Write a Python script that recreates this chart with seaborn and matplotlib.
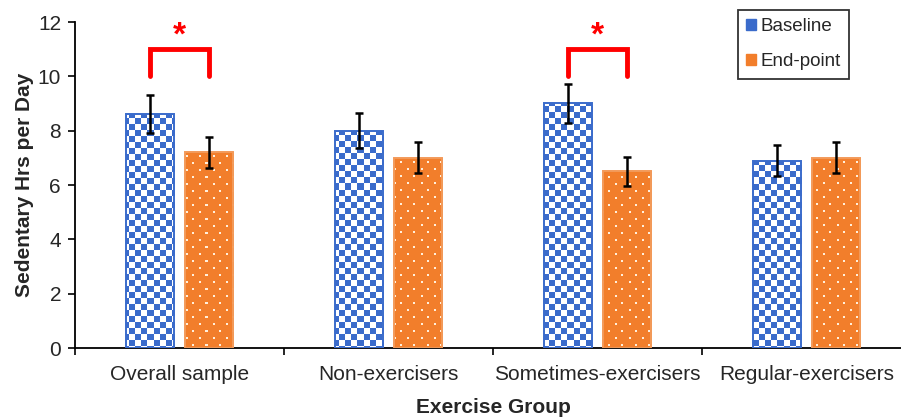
import numpy as np
import pandas as pd
import matplotlib
matplotlib.use("Agg")
import matplotlib.pyplot as plt
import seaborn as sns
from matplotlib.patches import Patch

# ---- data ----
groups = ["Overall sample", "Non-exercisers", "Sometimes-exercisers", "Regular-exercisers"]
times = ["Baseline", "End-point"]
baseline = [8.6, 8.0, 9.0, 6.9]
endpoint = [7.2, 7.0, 6.5, 7.0]
baseline_err = [0.70, 0.65, 0.72, 0.57]
endpoint_err = [0.57, 0.57, 0.53, 0.57]
sig_groups = ["Overall sample", "Sometimes-exercisers"]
sig_low, sig_high = 10.0, 11.0
y_ticks = [0, 2, 4, 6, 8, 10, 12]

df = pd.DataFrame({
    "Group": groups * 2,
    "Time": [times[0]] * 4 + [times[1]] * 4,
    "Hours": baseline + endpoint,
    "Err": baseline_err + endpoint_err,
})

blue = "#3A6BCB"
orange = "#F27E2B"

sns.set_theme(style="white")
plt.rcParams["font.family"] = ["Liberation Sans", "DejaVu Sans"]

W, H, DPI = 901, 419, 100
fig = plt.figure(figsize=(W / DPI, H / DPI), dpi=DPI)
ax_l, ax_r, ax_t, ax_b = 75, 911, 22, 348
ax = fig.add_axes([ax_l / W, (H - ax_b) / H, (ax_r - ax_l) / W, (ax_b - ax_t) / H])

sns.barplot(data=df, x="Group", y="Hours", hue="Time", order=groups, hue_order=times,
            palette=[blue, orange], width=0.564, gap=0.18, errorbar=None, ax=ax,
            legend=False)

ax.set_xlim(-0.5, 3.5)
ax.set_ylim(0, 12)

# textures
pw, ph = ax_r - ax_l, ax_b - ax_t
jj, ii = np.meshgrid(np.arange(pw), np.arange(ph))
checker = ((ii // 6 + jj // 6) % 2 == 0)
blue_rgb = np.array(matplotlib.colors.to_rgb(blue))
orange_rgb = np.array(matplotlib.colors.to_rgb(orange))
tex_blue = np.ones((ph, pw, 3))
tex_blue[checker] = blue_rgb
tex_orange = np.ones((ph, pw, 3)) * orange_rgb
rs, cs = 7, 13
rowi = ii // rs
dots = ((ii % rs) < 2) & (((jj + (rowi % 2) * 6) % cs) < 2)
tex_orange[dots] = [1.0, 0.94, 0.86]

bars = sorted(ax.patches, key=lambda p: p.get_x())
vals = df.set_index(["Group", "Time"])
centers = {}
for p in bars:
    cx = p.get_x() + p.get_width() / 2
    gi = int(round(cx))
    t = times[0] if cx < gi else times[1]
    g = groups[gi]
    centers[(g, t)] = cx
    tex = tex_blue if t == times[0] else tex_orange
    ec = blue if t == times[0] else "#F39A5A"
    p.set_facecolor("none")
    p.set_edgecolor(ec)
    p.set_linewidth(1.4)
    p.set_zorder(3)
    im = ax.imshow(tex, extent=(-0.5, 3.5, 0, 12), aspect="auto", interpolation="nearest",
                   zorder=2.5, origin="upper")
    im.set_clip_path(p)
    ax.errorbar(cx, vals.loc[(g, t), "Hours"], yerr=vals.loc[(g, t), "Err"], fmt="none",
                ecolor="black", elinewidth=1.8, capsize=3.2, capthick=1.8, zorder=4)

# significance brackets
for g in sig_groups:
    x0, x1 = centers[(g, times[0])], centers[(g, times[1])]
    ax.plot([x0, x0, x1, x1], [sig_low, sig_high, sig_high, sig_low], color="#FF0000",
            lw=3.5, solid_joinstyle="miter", solid_capstyle="round", zorder=5, clip_on=False)
    ax.text((x0 + x1) / 2, 10.9, "*", color="#FF0000", fontsize=24, fontweight="bold",
            ha="center", va="bottom", zorder=5)

# axes styling
for s in ["top", "right"]:
    ax.spines[s].set_visible(False)
for s in ["left", "bottom"]:
    ax.spines[s].set_color("black")
    ax.spines[s].set_linewidth(1.3)
fs = 15
ax.set_yticks(y_ticks)
ax.set_yticklabels([str(v) for v in y_ticks])
ax.tick_params(axis="y", which="major", direction="out", length=5, width=1.2, color="black",
               labelsize=fs, pad=5, left=True)
ax.set_xticks(range(len(groups)))
ax.set_xticklabels(groups)
ax.tick_params(axis="x", which="major", length=0, labelsize=fs, pad=12)
ax.set_xticks([-0.5, 0.5, 1.5, 2.5], minor=True)
ax.tick_params(axis="x", which="minor", direction="out", length=5, width=1.2, color="black",
               bottom=True)
ax.set_xlabel("Exercise Group", fontsize=fs, fontweight="bold", labelpad=10)
ax.set_ylabel("Sedentary Hrs per Day", fontsize=fs, fontweight="bold", labelpad=3)
ax.grid(False)

handles = [Patch(facecolor=blue, edgecolor=blue, label=times[0]),
           Patch(facecolor=orange, edgecolor=orange, label=times[1])]
leg = ax.legend(handles=handles, loc="upper left", bbox_to_anchor=((738 - ax_l) / pw, 1 + (ax_t - 10) / ph),
                frameon=True, fancybox=False, edgecolor="black", fontsize=13.5,
                handlelength=0.5, handleheight=0.5, handletextpad=0.25, borderpad=0.45,
                labelspacing=0.95, borderaxespad=0)
leg.get_frame().set_linewidth(1.3)

fig.savefig("out.png", dpi=DPI)
